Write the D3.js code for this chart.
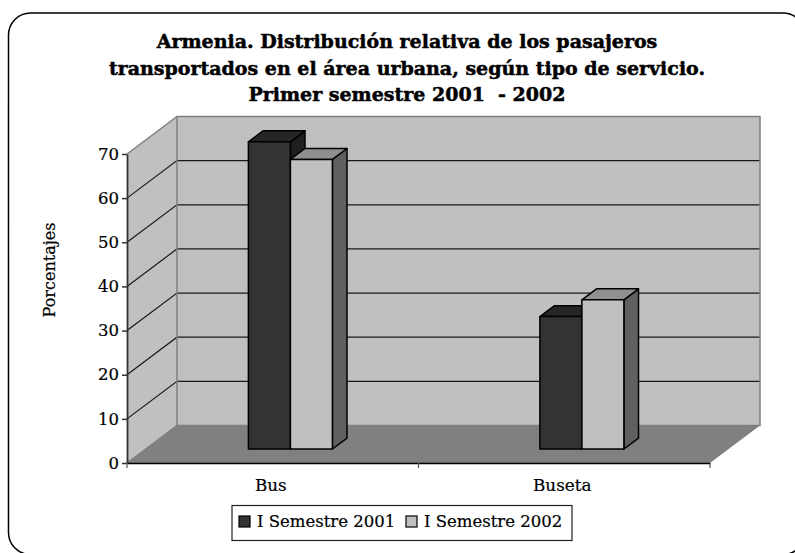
<!DOCTYPE html>
<html>
<head>
<meta charset="utf-8">
<script src="https://d3js.org/d3.v7.min.js"></script>
<style>
html, body { margin: 0; padding: 0; background: #fff; overflow: hidden; }
text { font-family: "DejaVu Serif", serif; fill: #000; stroke: #000; stroke-width: 0.2; }
</style>
</head>
<body>
<div id="chart"></div>
<script>
//chart data
const categories = ["Bus", "Buseta"];
const semestre2001 = [69.6, 30.0];
const semestre2002 = [65.6, 33.8];
const seriesNames = ["I Semestre 2001", "I Semestre 2002"];
const yTicks = [0, 10, 20, 30, 40, 50, 60, 70];
const titleLines = [
    "Armenia. Distribución relativa de los pasajeros",
    "transportados en el área urbana, según tipo de servicio.",
    "Primer semestre 2001  - 2002"
];

//define chart properties
const width = 795;
const height = 553;

const svg = d3.select("#chart")
    .append("svg")
    .attr("width", width)
    .attr("height", height);

//scales for the front plane of the 3d box
const xscale = d3.scaleBand().domain(categories).range([127, 710]);
const yscale = d3.scaleLinear().domain([0, 70]).range([463, 154]);
const barscale = d3.scaleBand().domain([0, 1]).range([-43, 41]);

//depth goes from 0 (front of the floor) to 1 (back wall)
const depthX = d3.scaleLinear().domain([0, 1]).range([0, 50]);
const depthY = d3.scaleLinear().domain([0, 1]).range([0, -37.5]);

const line = d3.line();
const pt = (x, y, d) => [x + depthX(d), y + depthY(d)];

//outer rounded frame, runs past the window on the right and bottom
svg.append("rect")
    .attr("x", 8.5)
    .attr("y", 13)
    .attr("width", 796.5)
    .attr("height", 541.5)
    .attr("rx", 22)
    .attr("fill", "#fff")
    .attr("stroke", "#000")
    .attr("stroke-width", 1.5);

//title
svg.append("g").selectAll("text")
    .data(titleLines)
    .join("text")
    .attr("x", 407)
    .attr("y", (d, i) => 48 + i * 26.5)
    .attr("text-anchor", "middle")
    .attr("font-size", 19)
    .attr("font-weight", "bold")
    .style("stroke-width", 0.5)
    .style("white-space", "pre")
    .text(d => d);

const x0 = xscale.range()[0];
const x1 = xscale.range()[1];
const y0 = yscale(0);
const yTop = yscale(70);

//back and side walls
svg.append("path")
    .attr("d", line([pt(x0, y0, 1), pt(x1, y0, 1), pt(x1, yTop, 1), pt(x0, yTop, 1)]) + "Z")
    .attr("fill", "#c0c0c0");
svg.append("path")
    .attr("d", line([pt(x0, y0, 0), pt(x0, y0, 1), pt(x0, yTop, 1), pt(x0, yTop, 0)]) + "Z")
    .attr("fill", "#c0c0c0");

//gridlines on both walls
const grid = svg.append("g");
grid.selectAll(".gridback")
    .data(yTicks.slice(1, -1))
    .join("path")
    .attr("class", "gridback")
    .attr("d", d => line([pt(x0, yscale(d), 0), pt(x0, yscale(d), 1), pt(x1, yscale(d), 1)]))
    .attr("fill", "none")
    .attr("stroke", "#1a1a1a")
    .attr("stroke-width", 1.2);

//floor
svg.append("path")
    .attr("d", line([pt(x0, y0, 0), pt(x1, y0, 0), pt(x1, y0, 1), pt(x0, y0, 1)]) + "Z")
    .attr("fill", "#808080");

//wall edges
svg.append("path")
    .attr("d", line([pt(x0, y0, 0), pt(x0, y0, 1), pt(x1, y0, 1), pt(x1, yTop, 1), pt(x0, yTop, 1), pt(x0, yTop, 0)]))
    .attr("fill", "none")
    .attr("stroke", "#808080")
    .attr("stroke-width", 1.5);
svg.append("path")
    .attr("d", line([pt(x0, yTop, 1), pt(x0, y0, 1)]))
    .attr("stroke", "#808080")
    .attr("stroke-width", 1.5);

//bars, each one is a front, a top and a side
const depthFront = 0.373;
const depthBack = 0.665;
const barColors = [
    { front: "#333333", top: "#262626", side: "#1f1f1f" },
    { front: "#c0c0c0", top: "#909090", side: "#606060" }
];

const barData = [];
categories.forEach((c, i) => {
    [semestre2001, semestre2002].forEach((s, j) => {
        barData.push({ cat: c, series: j, value: s[i] });
    });
});

const bars = svg.append("g").selectAll("g")
    .data(barData)
    .join("g")
    .attr("stroke", "#000")
    .attr("stroke-width", 1.5)
    .attr("stroke-linejoin", "round");

const barLeft = d => xscale(d.cat) + xscale.bandwidth() / 2 + barscale(d.series);
const barRight = d => barLeft(d) + barscale.bandwidth();

bars.append("path")
    .attr("fill", d => barColors[d.series].side)
    .attr("d", d => line([
        pt(barRight(d), y0, depthFront), pt(barRight(d), y0, depthBack),
        pt(barRight(d), yscale(d.value), depthBack), pt(barRight(d), yscale(d.value), depthFront)
    ]) + "Z");
bars.append("path")
    .attr("fill", d => barColors[d.series].top)
    .attr("d", d => line([
        pt(barLeft(d), yscale(d.value), depthFront), pt(barRight(d), yscale(d.value), depthFront),
        pt(barRight(d), yscale(d.value), depthBack), pt(barLeft(d), yscale(d.value), depthBack)
    ]) + "Z");
bars.append("path")
    .attr("fill", d => barColors[d.series].front)
    .attr("d", d => line([
        pt(barLeft(d), y0, depthFront), pt(barRight(d), y0, depthFront),
        pt(barRight(d), yscale(d.value), depthFront), pt(barLeft(d), yscale(d.value), depthFront)
    ]) + "Z");

//y axis
const yAxisG = svg.append("g")
    .attr("transform", "translate(" + x0 + ",0)")
    .call(d3.axisLeft(yscale).tickValues(yTicks).tickSize(5).tickPadding(3).tickSizeOuter(0));
yAxisG.selectAll("text").attr("font-size", 16.5).style("font-family", '"DejaVu Serif", serif');
yAxisG.selectAll("line").attr("stroke", "#333").attr("stroke-width", 1.5);
yAxisG.select(".domain").attr("stroke", "#333").attr("stroke-width", 1.8);

//x axis, ticks sit between the categories
const xAxisG = svg.append("g")
    .attr("transform", "translate(0," + y0 + ")")
    .call(d3.axisBottom(xscale).tickSize(0).tickPadding(0));
xAxisG.selectAll("text")
    .attr("font-size", 16.8)
    .attr("y", 28)
    .attr("dy", 0)
    .attr("dx", -2)
    .style("font-family", '"DejaVu Serif", serif');
xAxisG.select(".domain").attr("stroke", "#000").attr("stroke-width", 1.5);
xAxisG.selectAll(".sep")
    .data([x0, xscale("Buseta"), x1])
    .join("line")
    .attr("class", "sep")
    .attr("x1", d => d)
    .attr("x2", d => d)
    .attr("y1", 0)
    .attr("y2", 5)
    .attr("stroke", "#555")
    .attr("stroke-width", 1.2);

//y label
svg.append("text")
    .attr("transform", "translate(55,270) rotate(-90)")
    .attr("text-anchor", "middle")
    .attr("font-size", 16)
    .text("Porcentajes");

//legend
const legend = svg.append("g");
legend.append("rect")
    .attr("x", 232)
    .attr("y", 505.5)
    .attr("width", 340)
    .attr("height", 35)
    .attr("fill", "#fff")
    .attr("stroke", "#222")
    .attr("stroke-width", 1.2);

const legendX = d3.scaleOrdinal().domain(seriesNames).range([239, 406]);
const legendItem = legend.selectAll(".item")
    .data(seriesNames)
    .join("g")
    .attr("class", "item")
    .attr("transform", d => "translate(" + legendX(d) + ",516)");
legendItem.append("rect")
    .attr("width", 11)
    .attr("height", 11)
    .attr("fill", (d, i) => barColors[i].front)
    .attr("stroke", "#000")
    .attr("stroke-width", 1.2);
legendItem.append("text")
    .attr("x", 18)
    .attr("y", 11)
    .attr("font-size", 16.5)
    .text(d => d);
</script>
</body>
</html>
